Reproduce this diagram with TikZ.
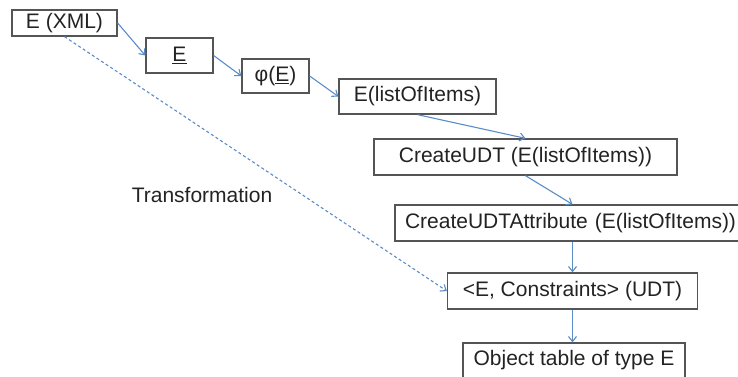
\documentclass[tikz,border=0pt]{standalone}
\usepackage{fontspec}
\setmainfont{Liberation Sans}
\usetikzlibrary{arrows.meta,calc}
\definecolor{boxline}{RGB}{85,85,85}
\definecolor{txt}{RGB}{35,35,35}
\definecolor{arr}{RGB}{90,140,200}
\begin{document}
\begin{tikzpicture}[x=1pt,y=-1pt,
  box/.style={draw=boxline,line width=1.3pt,fill=white,inner sep=0pt,text=txt,
    font=\fontsize{21}{25}\selectfont},
  flow/.style={draw=arr,line width=1.1pt,-{Straight Barb[length=5pt,width=8pt]}},
  dflow/.style={flow,dash pattern=on 3pt off 2.5pt}]
\useasboundingbox (0,0) rectangle (738,376);
\node[box,minimum width=105pt,minimum height=26pt] (b1) at (64.5,23) {E (XML)};
\node[box,minimum width=67pt,minimum height=35pt] (b2) at (179.5,55.5) {\underline{E}};
\node[box,minimum width=67pt,minimum height=34pt] (b3) at (275.5,76) {φ(\underline{E})};
\node[box,minimum width=157pt,minimum height=35pt] (b4) at (417.5,96.5) {E(listOfItems)};
\node[box,minimum width=303pt,minimum height=36pt] (b5) at (525.5,157) {CreateUDT (E(listOfItems))};
\node[box,minimum width=345pt,minimum height=36pt,text width=345pt,align=left] (b6) at (567.5,223) {\hspace*{10pt}CreateUDTAttribute (E(listOfItems))};
\node[box,minimum width=250pt,minimum height=36pt] (b7) at (572.5,291) {<E, Constraints> (UDT)};
\node[box,minimum width=222pt,minimum height=35pt] (b8) at (574,360.5) {Object table of type E};
\node[text=txt,font=\fontsize{21}{25}\selectfont,inner sep=0pt] (lab) at (202,195) {Transformation};
\draw[flow] (b1.east) -- (b2.west);
\draw[flow] (b2.east) -- (b3.west);
\draw[flow] (b3.east) -- (b4.west);
\draw[flow] (b4.south) -- (b5.north);
\draw[flow] (b5.south) -- (b7.north |- b6.north);
\draw[flow] (b7.north |- b6.south) -- (b7.north);
\draw[flow] (b7.south) -- (b7.south |- b8.north);
\draw[dflow] (b1.south) -- (b7.west);
\end{tikzpicture}
\end{document}
